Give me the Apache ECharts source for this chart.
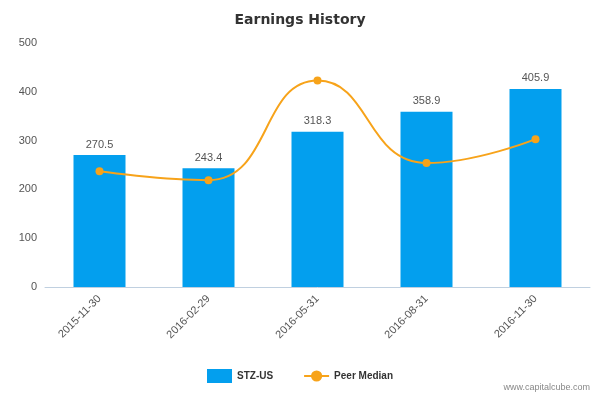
<!DOCTYPE html>
<html>
<head>
<meta charset="utf-8">
<script src="https://cdn.jsdelivr.net/npm/echarts@6/dist/echarts.min.js"></script>
<style>html,body{margin:0;padding:0;background:#fff}</style>
</head>
<body>
<div id="main" style="width:600px;height:400px"></div>
<script>
// chart data
const categories = ['2015-11-30', '2016-02-29', '2016-05-31', '2016-08-31', '2016-11-30'];
const stzValues = [270.5, 243.4, 318.3, 358.9, 405.9];
const peerMedian = [237, 219, 423, 254, 303];

let myChart = echarts.init(document.getElementById('main'));
myChart.setOption({
    animation: false,
    title: {
        text: 'Earnings History', left: 'center', top: 8,
        textStyle: { fontSize: 14, fontWeight: 'bold', color: '#333', fontFamily: 'DejaVu Sans' }
    },
    grid: { left: 45, right: 10, top: 43, bottom: 113 },
    legend: {
        bottom: 12, left: 'center', itemGap: 30,
        textStyle: { fontSize: 10, fontWeight: 'bold', color: '#333' },
        data: [{ name: 'STZ-US', icon: 'rect' }, { name: 'Peer Median' }]
    },
    graphic: [{
        type: 'text', right: 10, bottom: 8,
        style: { text: 'www.capitalcube.com', fontSize: 9, fill: '#888' }
    }],
    xAxis: {
        type: 'category', data: categories,
        axisLine: { lineStyle: { color: '#c0d0e0' } },
        axisTick: { lineStyle: { color: '#c0d0e0' }, length: 8 },
        axisLabel: { rotate: 45, color: '#555', fontSize: 11, margin: 10 }
    },
    yAxis: {
        type: 'value', min: 0, max: 500, interval: 100,
        splitLine: { show: false },
        axisLine: { show: false },
        axisLabel: { color: '#555', fontSize: 11 }
    },
    series: [{
        name: 'STZ-US', type: 'bar', data: stzValues, barWidth: 52,
        itemStyle: { color: '#039fee' },
        label: { show: true, position: 'top', color: '#555', fontSize: 11 }
    }, {
        name: 'Peer Median', type: 'line', data: peerMedian, smooth: true,
        symbol: 'circle', symbolSize: 8,
        lineStyle: { color: '#f7a31a', width: 2 },
        itemStyle: { color: '#f7a31a' }
    }]
});
</script>
</body>
</html>
